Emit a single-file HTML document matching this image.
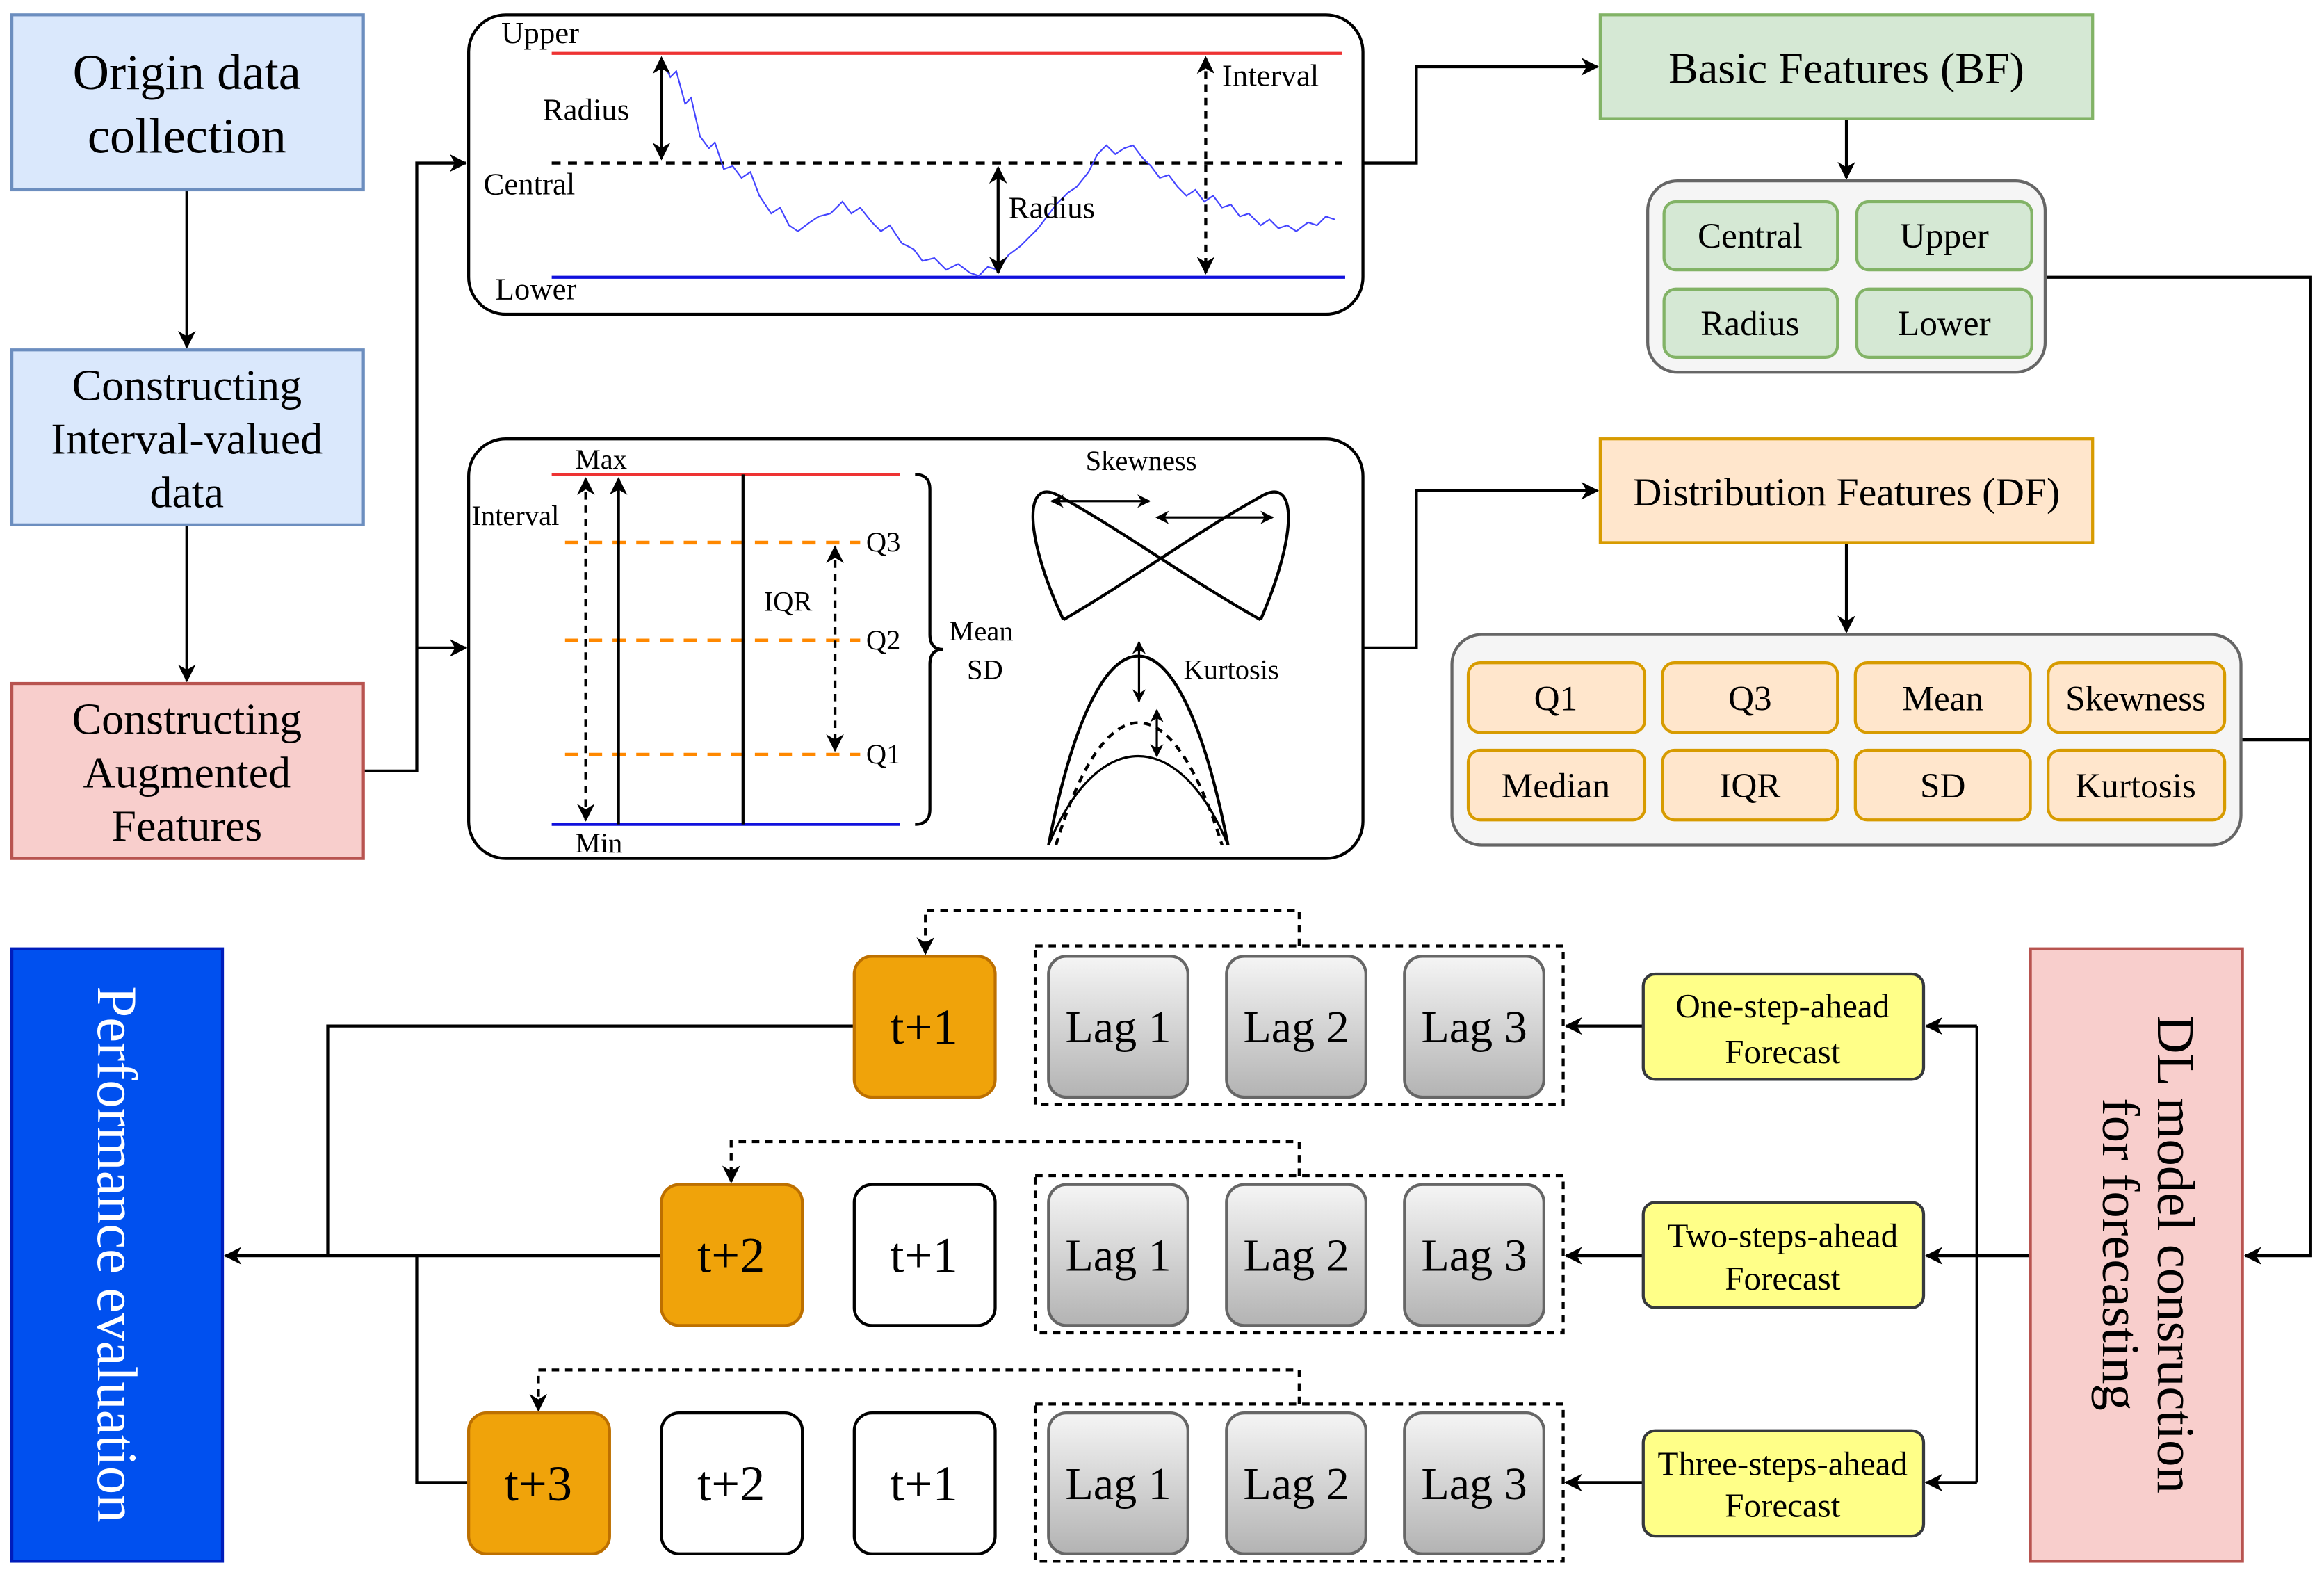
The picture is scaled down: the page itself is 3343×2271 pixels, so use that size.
<!DOCTYPE html>
<html><head><meta charset="utf-8"><style>html,body{margin:0;padding:0;background:#fff}svg{display:block}text{font-family:"Liberation Serif",serif;fill:#000}</style></head><body>
<svg width="3343" height="2271" viewBox="0 0 1567 1065" preserveAspectRatio="none" xmlns="http://www.w3.org/2000/svg">
<defs>
<marker id="a" viewBox="0 0 10 10" refX="9" refY="5" markerWidth="6" markerHeight="6" orient="auto-start-reverse"><path d="M0,0 L10,5 L0,10 L3,5 z" fill="#000"/></marker>
<linearGradient id="g" x1="0" y1="0" x2="0" y2="1"><stop offset="0" stop-color="#f5f5f5"/><stop offset="1" stop-color="#b3b3b3"/></linearGradient>
</defs>
<g stroke="#000" stroke-width="2" fill="none">
<line x1="126" y1="128" x2="126" y2="234" marker-end="url(#a)"/>
<line x1="126" y1="354" x2="126" y2="459" marker-end="url(#a)"/>
<polyline points="245,520 281,520 281,110 314,110" marker-end="url(#a)"/>
<line x1="281" y1="437" x2="314" y2="437" marker-end="url(#a)"/>
<polyline points="919,110 955,110 955,45 1077,45" marker-end="url(#a)"/>
<line x1="1245" y1="80" x2="1245" y2="120" marker-end="url(#a)"/>
<polyline points="1379,187 1558,187 1558,847 1514,847" marker-end="url(#a)"/>
<line x1="1511" y1="499" x2="1558" y2="499"/>
<polyline points="919,437 955,437 955,331 1077,331" marker-end="url(#a)"/>
<line x1="1245" y1="366" x2="1245" y2="426" marker-end="url(#a)"/>
<line x1="1369" y1="847" x2="1333" y2="847"/>
<line x1="1333" y1="692" x2="1333" y2="1000"/>
<line x1="1333" y1="692" x2="1299" y2="692" marker-end="url(#a)"/>
<line x1="1333" y1="847" x2="1299" y2="847" marker-end="url(#a)"/>
<line x1="1333" y1="1000" x2="1299" y2="1000" marker-end="url(#a)"/>
<line x1="1108" y1="692" x2="1056" y2="692" marker-end="url(#a)"/>
<line x1="1108" y1="847" x2="1056" y2="847" marker-end="url(#a)"/>
<line x1="1108" y1="1000" x2="1056" y2="1000" marker-end="url(#a)"/>
<polyline points="576,692 221,692 221,847"/>
<line x1="446" y1="847" x2="152" y2="847" marker-end="url(#a)"/>
<polyline points="316,1000 281,1000 281,847"/>
<g stroke-dasharray="5,4">
<rect x="698" y="638" width="356" height="107"/>
<rect x="698" y="793" width="356" height="106"/>
<rect x="698" y="947" width="356" height="106"/>
<polyline points="876,638 876,614 624,614 624,643" marker-end="url(#a)"/>
<polyline points="876,793 876,770 493,770 493,797" marker-end="url(#a)"/>
<polyline points="876,947 876,924 363,924 363,951" marker-end="url(#a)"/>
</g>
</g>
<!-- left boxes -->
<rect x="8" y="10" width="237" height="118" fill="#dae8fc" stroke="#6c8ebf" stroke-width="2"/>
<text x="126" y="60" font-size="34" text-anchor="middle">Origin data</text>
<text x="126" y="103" font-size="34" text-anchor="middle">collection</text>
<rect x="8" y="236" width="237" height="118" fill="#dae8fc" stroke="#6c8ebf" stroke-width="2"/>
<text x="126" y="270" font-size="30" text-anchor="middle">Constructing</text>
<text x="126" y="306" font-size="30" text-anchor="middle">Interval-valued</text>
<text x="126" y="342" font-size="30" text-anchor="middle">data</text>
<rect x="8" y="461" width="237" height="118" fill="#f8cecc" stroke="#b85450" stroke-width="2"/>
<text x="126" y="495" font-size="30" text-anchor="middle">Constructing</text>
<text x="126" y="531" font-size="30" text-anchor="middle">Augmented</text>
<text x="126" y="567" font-size="30" text-anchor="middle">Features</text>
<!-- top panel -->
<rect x="316" y="10" width="603" height="202" rx="25" fill="#fff" stroke="#000" stroke-width="2"/>
<line x1="372" y1="36" x2="905" y2="36" stroke="#e33" stroke-width="2"/>
<line x1="372" y1="110" x2="905" y2="110" stroke="#000" stroke-width="2" stroke-dasharray="6,5"/>
<line x1="372" y1="187" x2="907" y2="187" stroke="#11d" stroke-width="2"/>
<polyline fill="none" stroke="#44f" stroke-width="1" points="446,40 452,52 456,48 462,70 466,66 472,92 478,100 482,96 488,114 494,112 500,120 506,116 512,132 520,144 526,140 532,152 538,156 546,150 552,146 560,144 568,136 574,144 580,140 588,150 594,156 600,152 608,164 616,168 622,176 630,174 638,182 646,178 654,184 660,186 666,180 673,182 680,172 688,166 694,160 700,154 706,146 712,138 720,130 726,126 734,116 740,104 746,98 752,104 758,100 764,98 770,106 776,112 782,120 788,118 794,126 800,132 806,128 812,136 818,132 824,140 830,138 836,146 842,144 850,152 856,148 862,154 868,152 874,156 882,150 888,152 894,146 900,148"/>
<g stroke="#000" stroke-width="2">
<line x1="446" y1="39" x2="446" y2="107" marker-start="url(#a)" marker-end="url(#a)"/>
<line x1="673" y1="113" x2="673" y2="184" marker-start="url(#a)" marker-end="url(#a)"/>
<line x1="813" y1="39" x2="813" y2="184" stroke-dasharray="5,4" marker-start="url(#a)" marker-end="url(#a)"/>
</g>
<g font-size="21"><text x="338" y="29">Upper</text><text x="326" y="131">Central</text><text x="334" y="202">Lower</text><text x="366" y="81">Radius</text><text x="680" y="147">Radius</text><text x="824" y="58">Interval</text></g>
<!-- second panel -->
<rect x="316" y="296" width="603" height="283" rx="25" fill="#fff" stroke="#000" stroke-width="2"/>
<line x1="372" y1="320" x2="607" y2="320" stroke="#e33" stroke-width="2"/>
<line x1="372" y1="556" x2="607" y2="556" stroke="#11d" stroke-width="2"/>
<g stroke="#f80" stroke-width="2.5" stroke-dasharray="9,7"><line x1="381" y1="366" x2="580" y2="366"/><line x1="381" y1="432" x2="580" y2="432"/><line x1="381" y1="509" x2="580" y2="509"/></g>
<g stroke="#000" stroke-width="2" fill="none">
<line x1="395" y1="323" x2="395" y2="553" stroke-dasharray="5,4" marker-start="url(#a)" marker-end="url(#a)"/>
<line x1="417" y1="556" x2="417" y2="323" marker-end="url(#a)"/>
<line x1="501" y1="320" x2="501" y2="556"/>
<line x1="563" y1="369" x2="563" y2="506" stroke-dasharray="5,4" marker-start="url(#a)" marker-end="url(#a)"/>
<path d="M617,320 Q627,320 627,330 L627,428 Q627,438 636,438 Q627,438 627,448 L627,546 Q627,556 617,556"/>
<path d="M717,418 C690,360 690,320 715,335 C760,360 800,390 850,418"/>
<path d="M850,418 C875,360 875,320 850,335 C805,360 765,390 717,418" />
<path d="M707,570 C740,400 795,400 828,570"/>
<path d="M712,570 C745,460 790,460 824,570" stroke-dasharray="5,4"/>
<path d="M707,570 C740,490 795,490 828,570" stroke-width="1.5"/>
<line x1="709" y1="338" x2="775" y2="338" stroke-width="1.5" marker-start="url(#a)" marker-end="url(#a)"/>
<line x1="780" y1="349" x2="858" y2="349" stroke-width="1.5" marker-start="url(#a)" marker-end="url(#a)"/>
<line x1="768" y1="433" x2="768" y2="473" stroke-width="1.5" marker-start="url(#a)" marker-end="url(#a)"/>
<line x1="780" y1="479" x2="780" y2="510" stroke-width="1.5" marker-start="url(#a)" marker-end="url(#a)"/>
</g>
<g font-size="19"><text x="388" y="316">Max</text><text x="388" y="575">Min</text><text x="318" y="354">Interval</text><text x="515" y="412">IQR</text><text x="584" y="372">Q3</text><text x="584" y="438">Q2</text><text x="584" y="515">Q1</text><text x="640" y="432">Mean</text><text x="652" y="458">SD</text><text x="732" y="317">Skewness</text><text x="798" y="458">Kurtosis</text></g>
<!-- BF -->
<rect x="1079" y="10" width="332" height="70" fill="#d5e8d4" stroke="#82b366" stroke-width="2"/>
<text x="1245" y="56" font-size="30" text-anchor="middle">Basic Features (BF)</text>
<rect x="1111" y="122" width="268" height="129" rx="20" fill="#f5f5f5" stroke="#666" stroke-width="2"/>
<g fill="#d5e8d4" stroke="#82b366" stroke-width="2"><rect x="1122" y="136" width="117" height="46" rx="8"/><rect x="1252" y="136" width="118" height="46" rx="8"/><rect x="1122" y="195" width="117" height="46" rx="8"/><rect x="1252" y="195" width="118" height="46" rx="8"/></g>
<g font-size="24" text-anchor="middle"><text x="1180" y="167">Central</text><text x="1311" y="167">Upper</text><text x="1180" y="226">Radius</text><text x="1311" y="226">Lower</text></g>
<!-- DF -->
<rect x="1079" y="296" width="332" height="70" fill="#ffe6cc" stroke="#d79b00" stroke-width="2"/>
<text x="1245" y="341" font-size="27" text-anchor="middle">Distribution Features (DF)</text>
<rect x="979" y="428" width="532" height="142" rx="20" fill="#f5f5f5" stroke="#666" stroke-width="2"/>
<g fill="#ffe6cc" stroke="#d79b00" stroke-width="2">
<rect x="990" y="447" width="119" height="47" rx="8"/><rect x="1121" y="447" width="118" height="47" rx="8"/><rect x="1251" y="447" width="118" height="47" rx="8"/><rect x="1381" y="447" width="119" height="47" rx="8"/>
<rect x="990" y="506" width="119" height="47" rx="8"/><rect x="1121" y="506" width="118" height="47" rx="8"/><rect x="1251" y="506" width="118" height="47" rx="8"/><rect x="1381" y="506" width="119" height="47" rx="8"/></g>
<g font-size="24" text-anchor="middle"><text x="1049" y="479">Q1</text><text x="1180" y="479">Q3</text><text x="1310" y="479">Mean</text><text x="1440" y="479">Skewness</text><text x="1049" y="538">Median</text><text x="1180" y="538">IQR</text><text x="1310" y="538">SD</text><text x="1440" y="538">Kurtosis</text></g>
<!-- DL -->
<rect x="1369" y="640" width="143" height="413" fill="#f8cecc" stroke="#b85450" stroke-width="2"/>
<text transform="translate(1455,846) rotate(90)" font-size="36" text-anchor="middle">DL model consruction</text>
<text transform="translate(1418,846) rotate(90)" font-size="36" text-anchor="middle">for forecasting</text>
<!-- Perf -->
<rect x="8" y="640" width="142" height="413" fill="#0050ef" stroke="#001dbc" stroke-width="2"/>
<text transform="translate(66,846) rotate(90)" font-size="38" text-anchor="middle" style="fill:#fff">Performance evaluation</text>
<!-- yellow -->
<g fill="#ffff88" stroke="#36393d" stroke-width="2"><rect x="1108" y="657" width="189" height="71" rx="8"/><rect x="1108" y="811" width="189" height="71" rx="8"/><rect x="1108" y="965" width="189" height="71" rx="8"/></g>
<g font-size="23" text-anchor="middle"><text x="1202" y="686">One-step-ahead</text><text x="1202" y="717">Forecast</text><text x="1202" y="841">Two-steps-ahead</text><text x="1202" y="870">Forecast</text><text x="1202" y="995">Three-steps-ahead</text><text x="1202" y="1023">Forecast</text></g>
<!-- lag & t boxes -->
<g fill="url(#g)" stroke="#666" stroke-width="2">
<rect x="707" y="645" width="94" height="95" rx="12"/><rect x="827" y="645" width="94" height="95" rx="12"/><rect x="947" y="645" width="94" height="95" rx="12"/>
<rect x="707" y="799" width="94" height="95" rx="12"/><rect x="827" y="799" width="94" height="95" rx="12"/><rect x="947" y="799" width="94" height="95" rx="12"/>
<rect x="707" y="953" width="94" height="95" rx="12"/><rect x="827" y="953" width="94" height="95" rx="12"/><rect x="947" y="953" width="94" height="95" rx="12"/></g>
<g fill="#f0a30a" stroke="#bd7000" stroke-width="2"><rect x="576" y="645" width="95" height="95" rx="12"/><rect x="446" y="799" width="95" height="95" rx="12"/><rect x="316" y="953" width="95" height="95" rx="12"/></g>
<g fill="#fff" stroke="#000" stroke-width="2"><rect x="576" y="799" width="95" height="95" rx="12"/><rect x="446" y="953" width="95" height="95" rx="12"/><rect x="576" y="953" width="95" height="95" rx="12"/></g>
<g font-size="31" text-anchor="middle">
<text x="754" y="703">Lag 1</text><text x="874" y="703">Lag 2</text><text x="994" y="703">Lag 3</text>
<text x="754" y="857">Lag 1</text><text x="874" y="857">Lag 2</text><text x="994" y="857">Lag 3</text>
<text x="754" y="1011">Lag 1</text><text x="874" y="1011">Lag 2</text><text x="994" y="1011">Lag 3</text>
<text x="623" y="704" font-size="34">t+1</text><text x="493" y="858" font-size="34">t+2</text><text x="623" y="858" font-size="34">t+1</text>
<text x="363" y="1012" font-size="34">t+3</text><text x="493" y="1012" font-size="34">t+2</text><text x="623" y="1012" font-size="34">t+1</text>
</g>
</svg>
</body></html>
